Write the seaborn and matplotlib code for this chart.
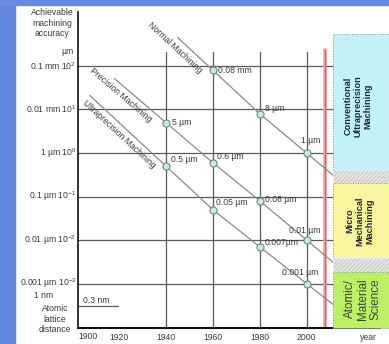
import numpy as np
import pandas as pd
import matplotlib
matplotlib.use("Agg")
import matplotlib.pyplot as plt
from matplotlib.patches import Rectangle
import seaborn as sns

# ---------------------------------------------------------------- data
# Achievable machining accuracy in micrometres, by year
years_normal = [1960, 1980, 2000]
acc_normal = [80, 8, 1]
labels_normal = ["0.08 mm", "8 µm", "1 µm"]

years_precision = [1940, 1960, 1980, 2000]
acc_precision = [5, 0.6, 0.08, 0.01]
labels_precision = ["5 µm", "0.6 µm", "0.08 µm", "0.01 µm"]

years_ultra = [1940, 1960, 1980, 2000]
acc_ultra = [0.5, 0.05, 0.007, 0.001]
labels_ultra = ["0.5 µm", "0.05 µm", "0.007µm", "0.001 µm"]

series_names = ["Normal Machining", "Precision Machining", "Ultraprecision Machining"]

decade_values = [100, 10, 1, 0.1, 0.01, 0.001]
decade_labels = ["0.1 mm 10$^{2}$", "0.01 mm 10$^{1}$", "1 µm 10$^{0}$",
                 "0.1 µm 10$^{-1}$", "0.01 µm 10$^{-2}$", "0.001 µm 10$^{-3}$"]

year_ticks = [1900, 1920, 1940, 1960, 1980, 2000]
grid_years = [1940, 1960, 1980, 2000]

atomic_lattice = 3e-4          # 0.3 nm expressed in µm
atomic_label = "0.3 nm"

regimes = ["Conventional\nUltraprecision\nMachining",
           "Micro\nMechanical\nMachining",
           "Atomic/\nMaterial\nScience"]

# ---------------------------------------------------------------- style
sns.set_theme(style="white")
plt.rcParams["font.family"] = ["Liberation Sans", "DejaVu Sans"]
plt.rcParams["mathtext.fontset"] = "custom"
plt.rcParams["mathtext.rm"] = "Liberation Sans"
plt.rcParams["mathtext.it"] = "Liberation Sans:italic"
plt.rcParams["mathtext.bf"] = "Liberation Sans:bold"

TXT = "#3a3a3a"
GRID = "#5a5a5a"
LINE = "#8a8a8a"
FS = 6.2

W, H = 389, 344
AX_L, AX_R, AX_T, AX_B = 78, 380, 12, 328

fig = plt.figure(figsize=(W / 100, H / 100), dpi=100)
fig.patch.set_facecolor("white")

# blue slide frame
fig.patches.append(Rectangle((0, 0), 15 / W, 1, transform=fig.transFigure,
                             color="#6184de", zorder=-5))
fig.patches.append(Rectangle((0, 1 - 5 / H), 1, 5 / H, transform=fig.transFigure,
                             color="#6a8ae2", zorder=-5))

ax = fig.add_axes([AX_L / W, (H - AX_B) / H, (AX_R - AX_L) / W, (AX_B - AX_T) / H])


def fx(px):
    return (px - AX_L) / (AX_R - AX_L)


def fy(py):
    return (AX_B - py) / (AX_B - AX_T)


ax.set_yscale("log")
ax.set_xlim(1902.5, 2031.3)
ax.set_ylim(10 ** -4.02, 10 ** 3.24)

for side in ["top", "right"]:
    ax.spines[side].set_visible(False)
ax.spines["left"].set_color("#111111")
ax.spines["left"].set_linewidth(1.2)
ax.spines["bottom"].set_color("#111111")
ax.spines["bottom"].set_linewidth(1.5)

# grid
for v in decade_values:
    ax.axhline(v, xmin=0, xmax=fx(333), color=GRID, lw=0.9, zorder=1)
for yr in grid_years:
    ax.axvline(yr, ymin=0, ymax=fy(52), color=GRID, lw=0.9, zorder=1)
ax.axhline(atomic_lattice, xmin=0, xmax=fx(118), color=GRID, lw=0.9, zorder=1)
ax.annotate(atomic_label, (ax.get_xlim()[0], atomic_lattice), xytext=(3.5, 1.2),
            textcoords="offset points", ha="left", va="bottom", fontsize=FS, color=TXT)

# red boundary line
x_red = 2008
ax.axvline(x_red, ymin=0, ymax=fy(50), color="#f3a6a6", lw=2.6, zorder=2)
ax.axvline(x_red, ymin=0, ymax=fy(50), color="#e25c5c", lw=0.9, zorder=2)

# ---------------------------------------------------------------- trend lines
line_start = {"Normal Machining": 1945, "Precision Machining": 1918,
              "Ultraprecision Machining": 1907.5}
line_end = 2011.3

point_frames, line_frames = [], []
for name, yrs, acc in zip(series_names,
                          [years_normal, years_precision, years_ultra],
                          [acc_normal, acc_precision, acc_ultra]):
    yrs = np.array(yrs, dtype=float)
    lg = np.log10(acc)
    s0 = (lg[1] - lg[0]) / (yrs[1] - yrs[0])
    s1 = (lg[-1] - lg[-2]) / (yrs[-1] - yrs[-2])
    x0, x1 = line_start[name], line_end
    lx = np.concatenate([[x0], yrs, [x1]])
    ly = np.concatenate([[lg[0] + s0 * (x0 - yrs[0])], lg, [lg[-1] + s1 * (x1 - yrs[-1])]])
    line_frames.append(pd.DataFrame({"year": lx, "acc": 10 ** ly, "series": name}))
    point_frames.append(pd.DataFrame({"year": yrs, "acc": acc, "series": name}))

lines_df = pd.concat(line_frames, ignore_index=True)
points_df = pd.concat(point_frames, ignore_index=True)

sns.lineplot(data=lines_df, x="year", y="acc", hue="series", units="series",
             estimator=None, palette=[LINE] * 3, lw=0.9, legend=False, ax=ax,
             zorder=3)
sns.scatterplot(data=points_df, x="year", y="acc", s=26, color="#cfe6d8",
                edgecolor="#5e8f80", linewidth=0.8, legend=False, ax=ax, zorder=4)
ax.set_xlabel("")
ax.set_ylabel("")

# value labels next to each point (offsets in pixels: right, up)
PT = 0.72
offsets = {
    "Normal Machining": [(5, 0, "left"), (5, 5, "left"), (4, 13, "center")],
    "Precision Machining": [(6, 0, "left"), (4, 6, "left"), (5, 1, "left"), (-2, 10, "center")],
    "Ultraprecision Machining": [(5, 7, "left"), (3, 7, "left"), (5, 4, "left"), (-6, 11, "center")],
}
for name, yrs, acc, labs in zip(series_names,
                                [years_normal, years_precision, years_ultra],
                                [acc_normal, acc_precision, acc_ultra],
                                [labels_normal, labels_precision, labels_ultra]):
    for (yr, a, lab, (dx, dy, ha)) in zip(yrs, acc, labs, offsets[name]):
        ax.annotate(lab, (yr, a), xytext=(dx * PT, dy * PT), textcoords="offset points",
                    ha=ha, va="center", fontsize=FS, color=TXT, zorder=5)

# rotated series names, set just below-left of the upper part of each line
name_pos = {"Normal Machining": 1946.5, "Precision Machining": 1923,
            "Ultraprecision Machining": 1922.5}
fig.canvas.draw()
for name, df in zip(series_names, line_frames):
    xs, ys = df["year"].values, np.log10(df["acc"].values)
    xc = name_pos[name]
    yc = np.interp(xc, xs, ys)
    p0 = ax.transData.transform((xs[0], 10 ** ys[0]))
    p1 = ax.transData.transform((xs[1], 10 ** ys[1]))
    d = p1 - p0
    ang = np.degrees(np.arctan2(d[1], d[0]))
    n = np.array([-abs(d[1]), -abs(d[0])]) / np.hypot(*d)
    off = n * 9.0 * PT
    ax.annotate(name, (xc, 10 ** yc), xytext=tuple(off), textcoords="offset points",
                rotation=ang, rotation_mode="anchor", ha="center", va="center",
                fontsize=FS, color=TXT, zorder=5)

# ---------------------------------------------------------------- axis labels
ax.set_yticks([])
ax.set_xticks(year_ticks[1:])
ax.set_xticklabels([str(y) for y in year_ticks[1:]], fontsize=FS, color=TXT)
ax.tick_params(axis="x", length=0, pad=3.5)
ax.text(0, -0.012, str(year_ticks[0]), transform=ax.transAxes, ha="left", va="top",
        fontsize=FS, color=TXT)
ax.text(fx(368), fy(338), "year", transform=ax.transAxes, ha="center", va="center",
        fontsize=FS, color=TXT)

for v, lab in zip(decade_values, decade_labels):
    ax.annotate(lab, (0, v), xycoords=("axes fraction", "data"), xytext=(-1.2, 0),
                textcoords="offset points", ha="right", va="center",
                fontsize=FS, color=TXT)

ax.text(fx(44), fy(295), "1 nm", transform=ax.transAxes, ha="center", va="center",
        fontsize=FS, color=TXT)
ax.text(fx(55), fy(319), "Atomic\nlattice\ndistance", transform=ax.transAxes,
        ha="center", va="center", fontsize=FS, color=TXT, linespacing=1.25)
ax.text(fx(52), fy(23), "Achievable\nmachining\naccuracy", transform=ax.transAxes,
        ha="center", va="center", fontsize=FS, color=TXT, linespacing=1.25)
ax.text(fx(74), fy(52), "µm", transform=ax.transAxes, ha="right", va="center",
        fontsize=FS, color=TXT)

# ---------------------------------------------------------------- regime panels
bx0, bx1 = fx(333), fx(392)
panels = [
    (34, 170, "#c2f2f8", None),
    (170, 183, "#cfcfcf", "////////"),
    (183, 258, "#f7f59e", None),
    (258, 272, "#cfcfcf", "////////"),
    (272, 328, "#bdef66", None),
]
for top, bot, col, hatch in panels:
    r = Rectangle((bx0, fy(bot)), bx1 - bx0, fy(top) - fy(bot), transform=ax.transAxes,
                  facecolor=col, edgecolor="#8a8a8a" if hatch is None else "#e8e8e8",
                  lw=0.7, ls=":" if hatch is None else "-", hatch=hatch,
                  clip_on=False, zorder=6)
    ax.add_patch(r)

ax.text(fx(358), fy(106), regimes[0], transform=ax.transAxes, rotation=90,
        ha="center", va="center", fontsize=6.6, fontweight="bold", color="#22263a",
        linespacing=1.15, zorder=7)
ax.text(fx(360), fy(221), regimes[1], transform=ax.transAxes, rotation=90,
        ha="center", va="center", fontsize=6.6, fontweight="bold", color="#22263a",
        linespacing=1.15, zorder=7)
ax.text(fx(363), fy(299), regimes[2], transform=ax.transAxes, rotation=90,
        ha="center", va="center", fontsize=8.4, color="#3d4630",
        linespacing=1.1, zorder=7)

fig.savefig("out.png", dpi=100)
